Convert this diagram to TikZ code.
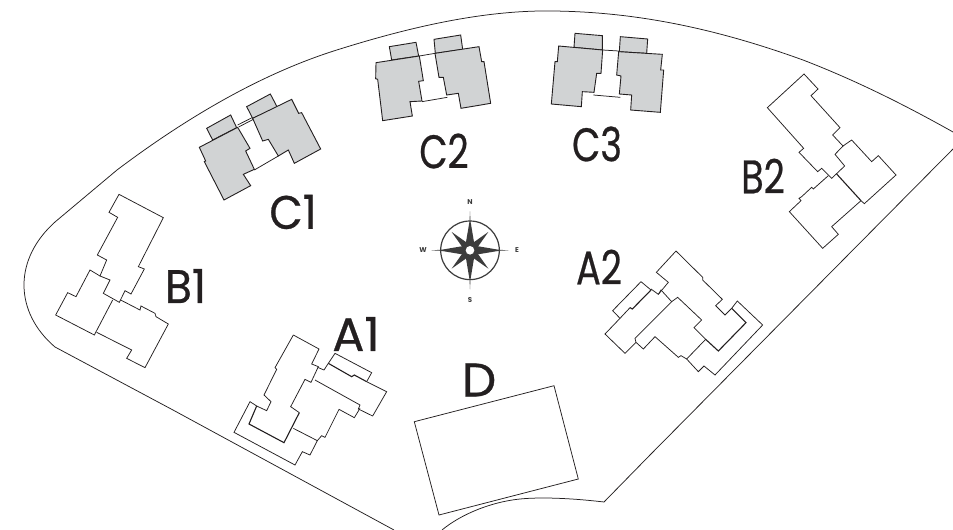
\documentclass[tikz,border=0pt]{standalone}
\usepackage{fontspec}
\setmainfont{Poppins}
\newfontfamily\tagfont[FakeBold=0.6]{Poppins}
\definecolor{ink}{HTML}{231F20}
\definecolor{bldg}{HTML}{D1D3D4}
\definecolor{rose}{HTML}{3C3C3C}
\tikzset{
  plan/.style={draw=ink,line width=0.75pt,line join=miter,fill=none},
  shared/.style={draw=ink,line width=1.1pt},
  grey/.style={draw=ink,line width=0.9pt,fill=bldg,line join=miter},
  tag/.style={text=ink,inner sep=0pt,font=\tagfont\fontsize{47}{47}\selectfont,xscale=0.78},
  dir/.style={text=rose,inner sep=0pt,font=\fontsize{7}{8}\selectfont\bfseries},
  zoomed/.style={x=0.33333pt,y=-0.33333pt}
}
\begin{document}
\begin{tikzpicture}[x=1pt,y=-1pt]
\useasboundingbox (0,0) rectangle (953,530);
\fill[white] (0,0) rectangle (953,530);
% site outline
\draw[plan] (394,530) -- (173,410) -- (55,347) .. controls (35,330) and (24,308) .. (24,285)
  .. controls (24,262) and (35,240) .. (55,222) -- (117,170)
  .. controls (190,115) and (265,72) .. (340,49)
  .. controls (420,24) and (490,10) .. (553,11)
  .. controls (640,12) and (720,30) .. (803,60)
  .. controls (855,80) and (905,105) .. (953,132);
\draw[plan] (953,149) -- (843,260) -- (650,455) -- (604,502)
  .. controls (570,498) and (540,497) .. (520,499)
  .. controls (490,502) and (460,515) .. (442,530);
% D
\draw[plan] (414.3,421.7) -- (554,385.7) -- (578.3,479) -- (439,515) -- cycle;
% B1
\begin{scope}[shift={(0,170)},zoomed]
\draw[plan] (357,73)--(490,143)--(415,290)--(433,297)--(393,372)--(375,362)--(358,397)--(310,370)--(330,330)--(300,318)--(320,270)--(292,255)--(353,142)--(327,127)--cycle;
\draw[plan] (300,318)--(270,300)--(228,380)--(203,368)--(167,435)--(283,495)--(338,390);
\draw[plan] (362,390)--(420,420)--(423,408)--(465,430)--(468,440)--(505,462)--(435,593)--(380,565)--(395,540)--(290,487);
\end{scope}
% C1
\begin{scope}[shift={(190,30)},zoomed]
\draw[plan] (143,285)--(188,262) (146,291)--(190,268) (193,420)--(265,378);
\draw[grey] (50,295)--(122,255)--(140,293)--(68,330)--cycle;
\draw[grey] (170,230)--(241,192)--(262,232)--(188,265)--cycle;
\draw[grey] (28,352)--(143,292)--(180,355)--(167,363)--(193,418)--(160,433)--(182,467)--(102,510)--(43,395)--(47,393)--cycle;
\draw[grey] (188,265)--(305,208)--(326,250)--(335,248)--(392,357)--(313,400)--(295,360)--(265,378)--(235,328)--(218,333)--cycle;
\end{scope}
% C2
\begin{scope}[shift={(360,20)},zoomed]
\draw[plan] (178,108)--(225,100) (186,245)--(262,232);
\draw[grey] (88,80)--(168,67)--(176,108)--(95,120)--cycle;
\draw[grey] (222,58)--(302,45)--(308,88)--(226,100)--cycle;
\draw[grey] (48,128)--(178,108)--(190,182)--(176,184)--(186,243)--(150,245)--(157,288)--(68,302)--(53,178)--(47,176)--cycle;
\draw[grey] (225,100)--(357,80)--(365,125)--(372,125)--(392,250)--(303,265)--(295,220)--(260,225)--(250,172)--(237,172)--cycle;
\end{scope}
% C3
\begin{scope}[shift={(540,20)},zoomed]
\draw[plan] (188,90)--(236,93) (160,225)--(241,232);
\draw[grey] (105,40)--(187,47)--(187,90)--(102,82)--cycle;
\draw[grey] (241,50)--(323,57)--(320,100)--(238,95)--cycle;
\draw[grey] (56,78)--(188,90)--(183,160)--(170,160)--(162,217)--(127,215)--(124,260)--(34,252)--(45,125)--(52,125)--cycle;
\draw[grey] (236,95)--(367,103)--(362,150)--(371,150)--(361,277)--(272,270)--(275,225)--(238,222)--(243,168)--(230,165)--cycle;
\end{scope}
% B2
\begin{scope}[shift={(750,60)},zoomed]
\draw[plan] (162,42)--(204,87)--(183,107)--(270,203)--(248,225)--(279,258)--(255,283)--(284,318)--(245,355)--(215,325)--(203,335)--(147,277)--(161,265)--(52,143)--cycle;
\draw[plan] (279,258)--(305,240)--(365,305)--(385,287)--(438,345)--(343,431)--(333,422);
\draw[shared] (260,342)--(333,422);
\draw[plan] (235,347)--(190,387)--(185,382)--(155,410)--(147,415)--(153,422)--(118,455)--(218,565)--(265,523)--(245,500)--(333,422);
\end{scope}
% A2
\begin{scope}[shift={(590,240)},zoomed]
\draw[plan] (258,33)--(338,112)--(338,120)--(397,178)--(377,197)--(405,225)--(425,205);
\draw[shared] (425,205)--(468,248)--(385,333)--(347,298);
\draw[plan] (258,33)--(199,97)--(235,127)--(205,163)--(183,147);
\draw[plan] (205,163)--(213,150)--(245,185);
\draw[plan] (153,125)--(183,150) (153,125)--(68,212)--(90,235);
\draw[shared] (183,150)--(127,207)--(120,203);
\draw[plan] (120,203)--(90,235)--(45,282)--(105,340)--(138,307);
\draw[plan] (245,185)--(135,295)--(138,307)--(160,327)--(195,290)--(265,352)--(273,347)--(290,357)--(347,298)--(312,263)--(335,240)--(263,172)--(245,185);
\draw[plan] (425,205)--(442,183)--(518,255)--(375,405)--(342,378)--(325,395)--(290,357);
\end{scope}
% A1
\begin{scope}[shift={(225,325)},zoomed]
\draw[plan] (205,30)--(282,72)--(260,117)--(280,125)--(258,172)--(240,163)--(197,245)--(223,263);
\draw[shared] (223,263)--(177,353)--(72,297)--(95,243);
\draw[plan] (95,243)--(125,257)--(138,230)--(117,210)--(155,133)--(150,128)--(205,30);
\draw[plan] (278,127)--(297,135)--(310,115);
\draw[shared] (310,115)--(380,155)--(388,150)--(425,170);
\draw[plan] (425,170)--(485,200)--(443,273)--(400,252)--(405,240)--(270,165);
\draw[plan] (310,115)--(330,85)--(440,143)--(425,170);
\draw[plan] (405,250)--(388,278)--(342,253)--(300,337)--(290,332)--(277,347)--(205,310);
\draw[plan] (277,347)--(255,390)--(232,380)--(210,420)--(27,322)--(75,230)--(95,243);
\end{scope}
% compass
\begin{scope}[shift={(470,250.3)}]
\draw[rose,line width=1.2pt] (0,0) circle (29.3);
\foreach \a in {45,135,225,315}
  \fill[rose,rotate=\a] (0,-26) -- (3.6,-5) -- (-3.6,-5) -- cycle;
\foreach \a in {0,90,180,270}
  \fill[rose,rotate=\a] (0,-39) -- (0.5,-29) -- (4.6,-4.6) -- (0,0) -- (-4.6,-4.6) -- (-0.5,-29) -- cycle;
\fill[white] (0,0) circle (4.3);
\end{scope}
\node[dir] (n) at (470,202) {N};
\node[dir] (s) at (470,300) {S};
\node[dir] (w) at (423,250.3) {W};
\node[dir] (e) at (517,250.3) {E};
% labels
\node[tag,xscale=1.18] (c1) at (293,212) {C1};
\node[tag] (c2) at (444,151) {C2};
\node[tag] (c3) at (597,144) {C3};
\node[tag] (b2) at (763,176) {B2};
\node[tag,xscale=1.2] (b1) at (185.5,286) {B1};
\node[tag,xscale=1.3] (a1) at (356,334) {A1};
\node[tag] (a2) at (599,267) {A2};
\node[tag,xscale=1.33] (d) at (479,380) {D};
\end{tikzpicture}
\end{document}
